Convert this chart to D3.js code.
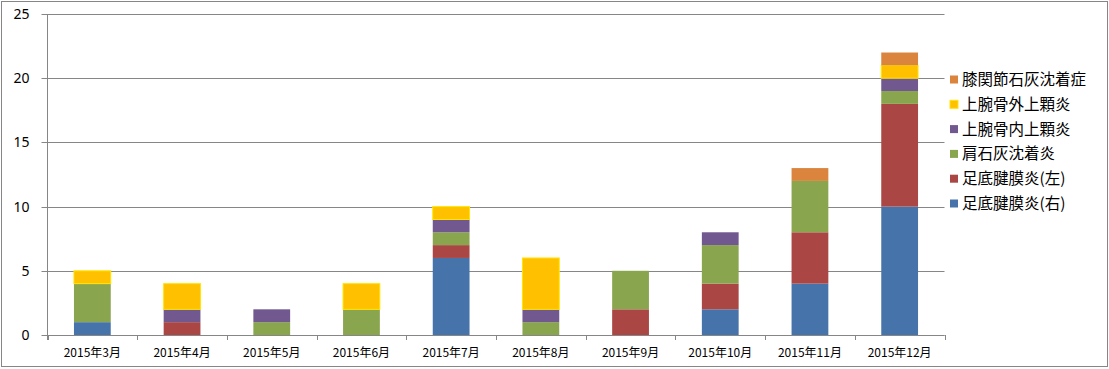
<!DOCTYPE html>
<meta charset="utf-8">
<style>
  body { margin: 0; background: #fff; }
  svg { display: block; }
  text { font-family: "Noto Sans CJK JP", "Noto Sans", sans-serif; fill: #000; }
  .ytick text { font-family: "Noto Sans", "Liberation Sans", sans-serif; font-size: 14px; }
  .xtick text { font-size: 12px; }
  .legend text { font-size: 15.5px; }
</style>
<body>
<div id="chart"></div>
<script src="https://d3js.org/d3.v7.min.js"></script>
<script>
// categories
const months = ["2015年3月","2015年4月","2015年5月","2015年6月","2015年7月","2015年8月","2015年9月","2015年10月","2015年11月","2015年12月"];

// series, bottom to top
const seriesNames = ["足底腱膜炎(右)","足底腱膜炎(左)","肩石灰沈着炎","上腕骨内上顆炎","上腕骨外上顆炎","膝関節石灰沈着症"];
const seriesColors = ["#4673AA","#AA4643","#89A54E","#71588F","#FFC000","#DB843D"];

const rightPF   = [1, 0, 0, 0, 6, 0, 0, 2, 4, 10];
const leftPF    = [0, 1, 0, 0, 1, 0, 2, 2, 4, 8];
const shoulder  = [3, 0, 1, 2, 1, 1, 3, 3, 4, 1];
const medialEp  = [0, 1, 1, 0, 1, 1, 0, 1, 0, 1];
const lateralEp = [1, 2, 0, 2, 1, 4, 0, 0, 0, 1];
const kneeCal   = [0, 0, 0, 0, 0, 0, 0, 0, 1, 1];

const yTicks = [0, 5, 10, 15, 20, 25];

const W = 1109, H = 369;
const plot = { left: 47.5, right: 944.5, top: 14, bottom: 335 };

const seriesValues = [rightPF, leftPF, shoulder, medialEp, lateralEp, kneeCal];
const table = months.map((m, i) => {
  const row = { month: m };
  seriesNames.forEach((s, j) => row[s] = seriesValues[j][i]);
  return row;
});
const stacked = d3.stack().keys(seriesNames)(table);

const svg = d3.select("#chart").append("svg")
  .attr("width", W).attr("height", H);

// chart frame
svg.append("rect")
  .attr("x", 1.5).attr("y", 1.5)
  .attr("width", W - 3).attr("height", 365)
  .attr("fill", "#fff").attr("stroke", "#868686");

const x = d3.scaleBand()
  .domain(months)
  .range([plot.left, plot.right])
  .paddingInner(0.59)
  .paddingOuter(0.295);

const y = d3.scaleLinear()
  .domain([0, 25])
  .range([plot.bottom, plot.top]);

// gridlines + y labels
const yg = svg.append("g").attr("class", "ytick");
yg.selectAll("line")
  .data(yTicks)
  .join("line")
  .attr("x1", plot.left - 6).attr("x2", plot.right)
  .attr("y1", d => Math.round(y(d)) + 0.5).attr("y2", d => Math.round(y(d)) + 0.5)
  .attr("stroke", "#868686");
yg.selectAll("text")
  .data(yTicks)
  .join("text")
  .attr("x", 29.5)
  .attr("y", d => y(d))
  .attr("dy", "0.36em")
  .attr("text-anchor", "end")
  .text(d => d);

// y axis line
svg.append("line")
  .attr("x1", plot.left).attr("x2", plot.left)
  .attr("y1", plot.top).attr("y2", plot.bottom + 5)
  .attr("stroke", "#868686");

// x tick marks at category boundaries
const step = x.step();
svg.append("g").selectAll("line")
  .data(d3.range(months.length + 1))
  .join("line")
  .attr("x1", i => Math.round(plot.left + i * step) + 0.5)
  .attr("x2", i => Math.round(plot.left + i * step) + 0.5)
  .attr("y1", plot.bottom).attr("y2", plot.bottom + 5)
  .attr("stroke", "#868686");

// bars
svg.append("g").selectAll("g")
  .data(stacked)
  .join("g")
  .attr("fill", (d, i) => seriesColors[i])
  .attr("stroke", (d, i) => i === 4 ? "#FFE600" : "none")
  .selectAll("rect")
  .data(d => d.filter(s => s[1] - s[0] > 0))
  .join("rect")
  .attr("x", d => x(d.data.month))
  .attr("width", x.bandwidth())
  .attr("y", d => y(d[1]))
  .attr("height", d => y(d[0]) - y(d[1]));

// redraw the zero line on top of the bars
svg.append("line")
  .attr("x1", plot.left).attr("x2", plot.right)
  .attr("y1", Math.round(y(0)) + 0.5).attr("y2", Math.round(y(0)) + 0.5)
  .attr("stroke", "#868686");

// x labels
svg.append("g").attr("class", "xtick")
  .selectAll("text")
  .data(months)
  .join("text")
  .attr("x", d => x(d) + x.bandwidth() / 2)
  .attr("y", 353)
  .attr("dy", "0.36em")
  .attr("text-anchor", "middle")
  .text(d => d);

// legend, top item is last series
const legendOrder = seriesNames.map((s, i) => i).reverse();
const lg = svg.append("g").attr("class", "legend")
  .selectAll("g")
  .data(legendOrder)
  .join("g")
  .attr("transform", (d, k) => `translate(950,${79.5 + k * 24.8})`);
lg.append("rect")
  .attr("x", 0).attr("y", -4)
  .attr("width", 8).attr("height", 8)
  .attr("fill", i => seriesColors[i])
  .attr("stroke", i => i === 4 ? "#FFE600" : "none");
lg.append("text")
  .attr("x", 12)
  .attr("y", 0)
  .attr("dy", "0.36em")
  .text(i => seriesNames[i]);
</script>
</body>
